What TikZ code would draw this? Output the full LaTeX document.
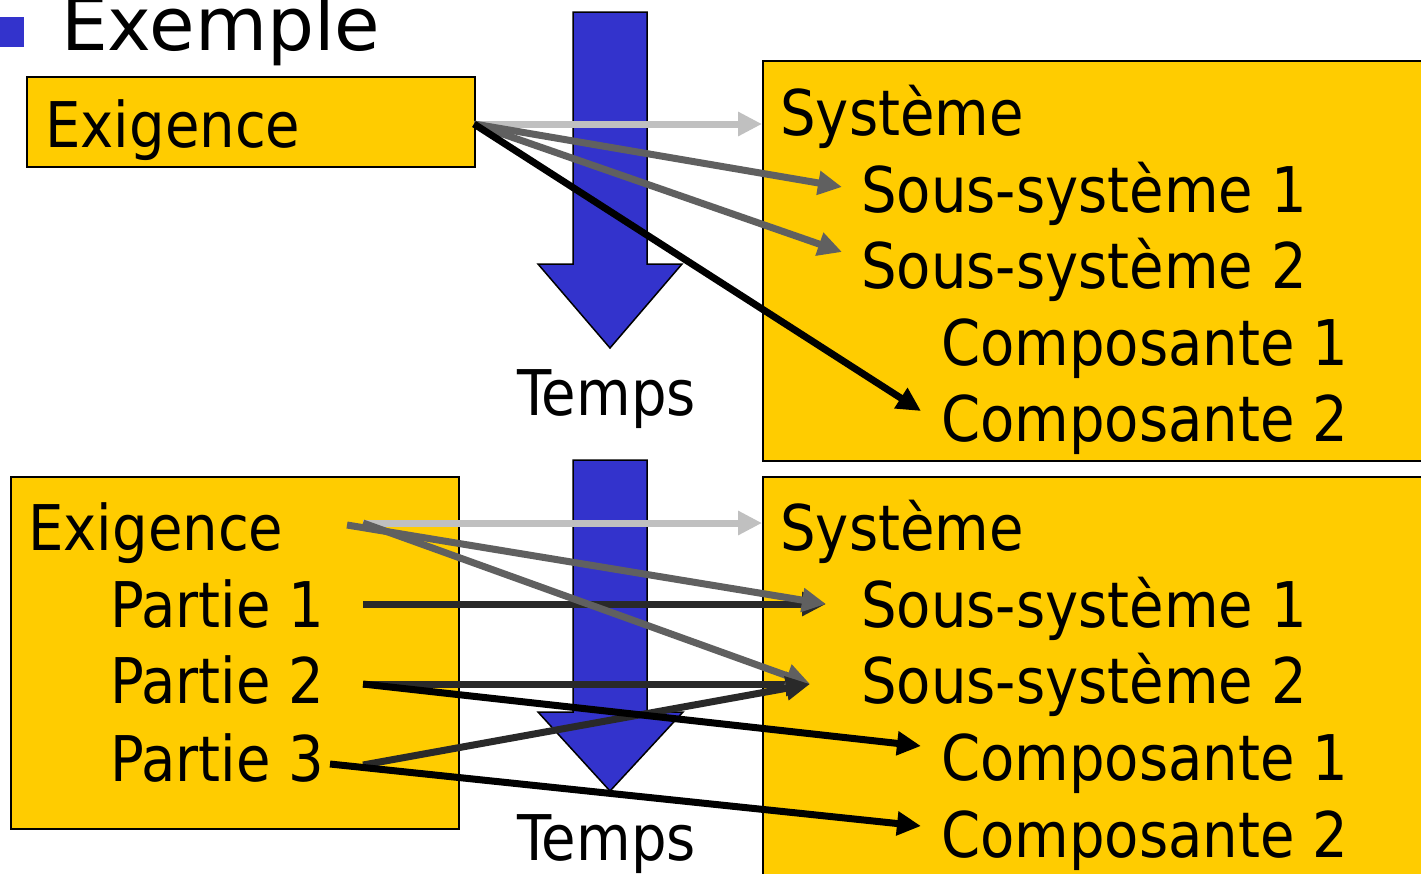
\documentclass[tikz,border=0pt]{standalone}
\usepackage{fontspec}
\setmainfont{DejaVu Sans}[FakeStretch=0.89]
\newfontfamily\titlefont{DejaVu Sans}
\usetikzlibrary{arrows.meta}

\definecolor{boxyellow}{RGB}{255,204,0}
\definecolor{timeblue}{RGB}{51,51,204}
\definecolor{linklight}{RGB}{192,192,192}
\definecolor{linkmid}{RGB}{96,96,96}
\definecolor{linkdark}{RGB}{41,41,41}

\tikzset{
  box/.style={draw=black, line width=1.5pt, fill=boxyellow, inner sep=0pt,
    anchor=north west},
  txt/.style={anchor=base west, inner sep=0pt, font=\fontsize{63}{76}\selectfont},
  timearrow/.style={draw=black, line width=1.5pt, fill=timeblue, line join=miter},
  link/.style={line width=7pt, -{Triangle[length=24pt,width=23pt]}},
  linkA/.style={link, draw=linklight},
  linkB/.style={link, draw=linkmid},
  linkC/.style={link, draw=linkdark},
  linkD/.style={link, draw=black},
}

\begin{document}
\begin{tikzpicture}[x=1pt, y=-1pt]
  \clip (0,0) rectangle (1421,873);
  \fill[white] (0,0) rectangle (1421,873);

  % heading with its bullet
  \fill[timeblue] (0,17) rectangle (24,47);
  \node[anchor=base west, inner sep=0pt, font=\titlefont\fontsize{74}{88}\selectfont]
    (title) at (61,50) {Exemple};

  % ---------- first case ----------
  \node[box, minimum width=448pt, minimum height=90pt] (reqA) at (26,76) {};
  \node[box, minimum width=680pt, minimum height=400pt] (sysA) at (762,60) {};

  \draw[timearrow] (573,12) -- (647,12) -- (647,264) -- (682,264) -- (610,348)
    -- (538,264) -- (573,264) -- cycle;

  \node[txt] (exA)   at (45,147)  {Exigence};
  \node[txt] (sysAt) at (780,135) {Système};
  \node[txt] (ssA1)  at (861,212) {Sous-système 1};
  \node[txt] (ssA2)  at (861,288) {Sous-système 2};
  \node[txt] (cpA1)  at (941,365) {Composante 1};
  \node[txt] (cpA2)  at (941,441) {Composante 2};
  \node[txt] (tempsA) at (517,415) {Temps};

  \coordinate (srcA)  at (474,124);
  \coordinate (inSysA) at (762,124);
  \coordinate (inSsA1) at (842,187);
  \coordinate (inSsA2) at (842,252);
  \coordinate (inCpA2) at (921,411);

  \draw[linkA] (srcA) -- (inSysA);
  \draw[linkB] (srcA) -- (inSsA1);
  \draw[linkB] (srcA) -- (inSsA2);
  \draw[linkD] (srcA) -- (inCpA2);

  % ---------- second case ----------
  \node[box, minimum width=448pt, minimum height=352pt] (reqB) at (10,476) {};
  \node[box, minimum width=680pt, minimum height=420pt] (sysB) at (762,476) {};

  \draw[timearrow] (573,460) -- (647,460) -- (647,712) -- (683,712) -- (610,791)
    -- (538,712) -- (573,712) -- cycle;

  \node[txt] (exB)   at (28,550)  {Exigence};
  \node[txt] (ptB1)  at (110,627) {Partie 1};
  \node[txt] (ptB2)  at (110,703) {Partie 2};
  \node[txt] (ptB3)  at (110,781) {Partie 3};
  \node[txt] (sysBt) at (780,550) {Système};
  \node[txt] (ssB1)  at (861,627) {Sous-système 1};
  \node[txt] (ssB2)  at (861,703) {Sous-système 2};
  \node[txt] (cpB1)  at (941,780) {Composante 1};
  \node[txt] (cpB2)  at (941,857) {Composante 2};
  \node[txt] (tempsB) at (517,860) {Temps};

  \coordinate (srcB)   at (363,523);
  \coordinate (srcBb)  at (347,525);
  \coordinate (srcP1)  at (363,604);
  \coordinate (srcP2)  at (363,684);
  \coordinate (srcP3)  at (363,765);
  \coordinate (srcP3b) at (330,764);
  \coordinate (inSysB) at (762,523);
  \coordinate (inSsB1) at (826,604);
  \coordinate (inSsB2) at (810,684);
  \coordinate (inCpB1) at (921,746);
  \coordinate (inCpB2) at (921,826);

  \draw[linkA] (srcB) -- (inSysB);
  \draw[linkC] (srcP1) -- (inSsB1);
  \draw[linkC] (srcP2) -- (inSsB2);
  \draw[linkB] (srcBb) -- (inSsB1);
  \draw[linkB] (srcB) -- (inSsB2);
  \draw[linkC] (srcP3) -- (inSsB2);
  \draw[linkD] (srcP2) -- (inCpB1);
  \draw[linkD] (srcP3b) -- (inCpB2);
\end{tikzpicture}
\end{document}
